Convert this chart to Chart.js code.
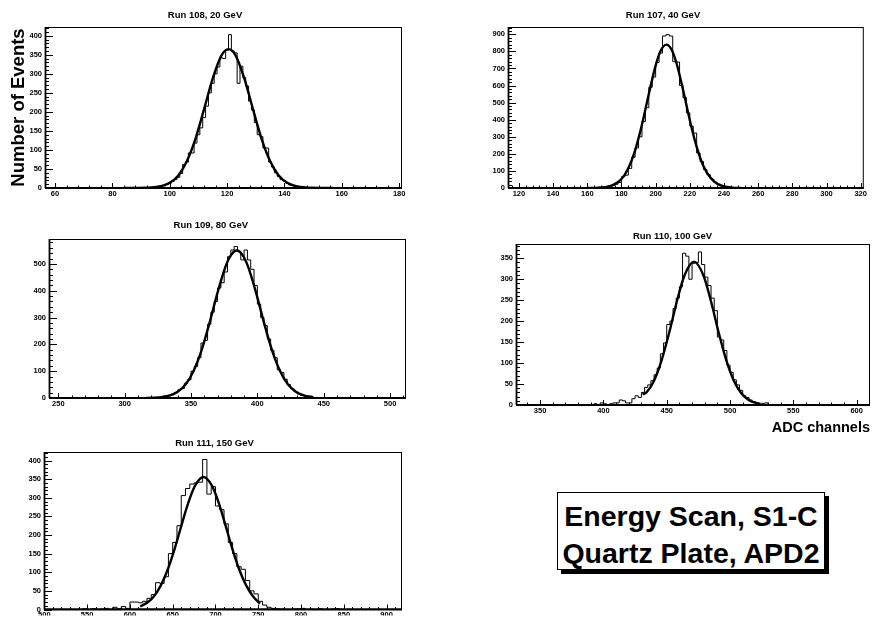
<!DOCTYPE html>
<html>
<head>
<meta charset="utf-8">
<script src="https://cdn.jsdelivr.net/npm/chart.js@4.4.0/dist/chart.umd.min.js"></script>
<style>
body { margin: 0; background: #fff; }
#fig { position: relative; width: 872px; height: 617px; overflow: hidden; font-family: "Liberation Sans", Arial, sans-serif; }
#fig canvas { position: absolute; }
#note { position: absolute; left: 557px; top: 492px; width: 266px; height: 71px; padding-top: 5px;
        border: 1px solid #000; box-shadow: 4px 4px 0 #000; background: #fff;
        font-weight: bold; font-size: 28.5px; line-height: 37px; text-align: center; white-space: nowrap; }
</style>
</head>
<body>
<div id="fig">
  <canvas id="run108"></canvas>
  <canvas id="run107"></canvas>
  <canvas id="run109"></canvas>
  <canvas id="run110"></canvas>
  <canvas id="run111"></canvas>
  <div id="note">Energy Scan, S1-C<br>Quartz Plate, APD2</div>
</div>
<script>
// Run 108, 20 GeV  (bins of 1 ADC channel, first low edge 90.5)
const run108Start = 90.5, run108Width = 1;
const run108Counts = [0,1,0,1,3,2,5,6,9,12,17,22,28,38,62,68,92,92,118,140,158,185,215,250,275,300,318,342,340,362,
                      403,360,355,275,320,290,268,228,205,172,140,135,105,105,68,55,40,30,22,18,12,8,6,4,2,2,1,1,0,0];
const run108FitX = [84,88,92,96,100,103,106,109,112,115,118,120.5,123,126,129,132,135,138,141,145,149,153,157];
const run108FitY = [0,0.1,0.6,3.4,13.7,33,71,130,208,288,348,365,348,288,208,130,71,33,13.7,3.4,0.6,0.1,0];
const run108XTicks = [60,80,100,120,140,160,180];
const run108YTicks = [0,50,100,150,200,250,300,350,400];

// Run 107, 40 GeV
const run107Start = 164, run107Width = 2;
const run107Counts = [1,2,3,5,10,15,22,32,66,75,115,180,235,300,390,470,590,650,735,790,890,898,890,740,738,600,530,440,
                      362,322,205,155,108,78,52,33,22,12,8,4,2,1,1];
const run107FitX = [160,165,170,175,180,184,188,192,196,200,203,206.3,209,212,216,220,224,228,232,236,240,245,250];
const run107FitY = [0.2,1,4.4,17,53,116,221,372,551,717,805,840,816,738,577,397,241,128,61,25,9,2.2,0.5];
const run107XTicks = [120,140,160,180,200,220,240,260,280,300,320];
const run107YTicks = [0,100,200,300,400,500,600,700,800,900];

// Run 109, 80 GeV
const run109Start = 320, run109Width = 2.5;
const run109Counts = [1,0,2,3,4,8,12,20,30,35,55,68,100,118,150,205,215,275,320,360,410,430,470,527,552,565,546,515,552,515,
                      480,420,350,300,270,220,178,150,105,95,70,50,35,24,15,10,7,4,3,2,1,0,1];
const run109FitX = [316,322,328,334,340,346,352,358,364,370,376,380,384.5,389,393,399,405,411,417,423,429,435,442];
const run109FitY = [0.3,1,3.4,9.4,23,51,102,179,281,393,490,532,550,532,490,393,281,179,102,51,23,9.4,2.8];
const run109XTicks = [250,300,350,400,450,500];
const run109YTicks = [0,100,200,300,400,500];

// Run 110, 100 GeV
const run110Start = 390, run110Width = 2.5;
const run110Counts = [0,3,0,5,3,0,3,5,5,12,10,5,5,15,22,18,30,42,48,58,72,88,122,148,192,200,230,255,282,362,
                      355,300,338,340,365,335,305,285,255,225,162,155,130,95,78,60,48,35,22,18,12,8,5,2,4,5,1,0,1];
const run110FitX = [431,434,440,446,452,458,464,471.5,479,485,491,497,503,509,515,519,524];
const run110FitY = [25,30,58,107,173,247,309,342,309,247,173,107,58,27.5,11.5,6,3];
const run110XTicks = [350,400,450,500,550,600];
const run110YTicks = [0,50,100,150,200,250,300,350];

// Run 111, 150 GeV
const run111Start = 540, run111Width = 5;
const run111Counts = [0,2,0,2,0,1,3,0,6,2,8,3,20,20,18,22,30,40,72,70,88,150,180,225,306,325,337,340,342,403,
                      310,330,278,268,230,180,150,115,108,78,50,42,22,12,6,3,2,1,0,0,1,2,3,0,1,0,2,0,0,1,2,0];
const run111FitX = [612,620,628,636,644,652,660,668,676,686,696,704,712,720,728,736,744,752];
const run111FitY = [8.3,18,35,64,106,161,224,285,332,356,332,285,224,161,106,64,35,16];
const run111XTicks = [500,550,600,650,700,750,800,850,900];
const run111YTicks = [0,50,100,150,200,250,300,350,400];

Chart.defaults.font.family = '"Liberation Sans", Arial, sans-serif';
Chart.defaults.color = '#000';

// ROOT-like frame with inward major/minor tick marks
const rootAxes = {
  id: 'rootAxes',
  afterDatasetsDraw(chart, args, opts) {
    const {ctx, chartArea: a, scales: {x, y}} = chart;
    ctx.save();
    ctx.strokeStyle = '#000';
    ctx.lineWidth = 1;
    ctx.strokeRect(a.left + 0.5, a.top + 0.5, a.right - a.left - 1, a.bottom - a.top - 1);
    ctx.lineWidth = 1.8;
    ctx.beginPath();
    ctx.moveTo(a.left, a.bottom); ctx.lineTo(a.right, a.bottom);
    ctx.moveTo(a.left + 0.5, a.top); ctx.lineTo(a.left + 0.5, a.bottom);
    ctx.stroke();
    ctx.lineWidth = 1;
    ctx.beginPath();
    const isMajor = (sc, v) => sc.ticks.some(t => Math.abs(t.value - v) < 1e-6);
    for (let k = Math.ceil(x.min / opts.xMinor); k * opts.xMinor <= x.max; k++) {
      const v = k * opts.xMinor;
      const px = Math.round(x.getPixelForValue(v)) + 0.5;
      ctx.moveTo(px, a.bottom);
      ctx.lineTo(px, a.bottom - (isMajor(x, v) ? 5 : 2.5));
    }
    for (let k = Math.ceil(y.min / opts.yMinor); k * opts.yMinor <= y.max; k++) {
      const v = k * opts.yMinor;
      const py = Math.round(y.getPixelForValue(v)) + 0.5;
      ctx.moveTo(a.left, py);
      ctx.lineTo(a.left + (isMajor(y, v) ? 8 : 4), py);
    }
    ctx.stroke();
    ctx.restore();
  }
};

function histPoints(start, width, counts) {
  const pts = [{x: start, y: 0}];
  counts.forEach((c, i) => pts.push({x: start + i * width, y: c}));
  pts.push({x: start + counts.length * width, y: 0});
  return pts;
}

// p.box = canvas [left, top, right, bottom], p.plot = frame [left, top, right, bottom] (page pixels)
function drawRun(p) {
  const cv = document.getElementById(p.id);
  const [bl, bt, br, bb] = p.box, [pl, pt, pr, pb] = p.plot;
  cv.width = br - bl; cv.height = bb - bt;
  cv.style.left = bl + 'px'; cv.style.top = bt + 'px';
  // title is centred over [bl + padLeft, pr]; keep room for the y labels
  const padLeft = Math.min(2 * p.titleX - pr - bl, pl - bl - 17);
  const lh = 9.5 * 1.2;
  new Chart(cv, {
    type: 'line',
    data: {
      datasets: [
        { data: p.fitX.map((v, i) => ({x: v, y: p.fitY[i]})), borderColor: '#000', borderWidth: 2.4,
          pointRadius: 0, cubicInterpolationMode: 'monotone', fill: false, order: 0 },
        { data: histPoints(p.start, p.width, p.counts), stepped: 'before', borderColor: '#000', borderWidth: 1,
          pointRadius: 0, fill: false, order: 1 }
      ]
    },
    options: {
      responsive: false, animation: false, events: [],
      layout: { padding: { left: padLeft, right: br - pr, top: 0, bottom: 0 } },
      plugins: {
        legend: { display: false },
        tooltip: { enabled: false },
        title: { display: true, text: p.title, font: { size: 9.5, weight: 'bold' },
                 padding: { top: p.titleY - bt - lh / 2, bottom: pt - p.titleY - lh / 2 } },
        rootAxes: { xMinor: p.xMinor, yMinor: p.yMinor }
      },
      scales: {
        x: {
          type: 'linear', min: p.xMin, max: p.xMax,
          afterBuildTicks: s => { s.ticks = p.xTicks.map(v => ({value: v})); },
          afterFit: s => { s.height = bb - pb; },
          grid: { display: false, drawTicks: false }, border: { display: false },
          ticks: { font: { size: 7.5, weight: 'bold' }, padding: 1, autoSkip: false, maxRotation: 0 },
          title: p.xTitle ? { display: true, text: p.xTitle, align: 'end', font: { size: 14.5, weight: 'bold' },
                              padding: { top: 0, bottom: Math.max(0, bb - p.xTitleY - 8.7) } } : { display: false }
        },
        y: {
          type: 'linear', min: 0, max: p.yMax,
          afterBuildTicks: s => { s.ticks = p.yTicks.map(v => ({value: v})); },
          afterFit: s => { s.width = pl - bl - padLeft; },
          grid: { display: false, drawTicks: false }, border: { display: false },
          ticks: { font: { size: 7.5, weight: 'bold' }, padding: 3, autoSkip: false },
          title: p.yTitle ? { display: true, text: p.yTitle, font: { size: 18.5, weight: 'bold' },
                              padding: { top: Math.max(0, p.yTitleX - bl - padLeft - 11.1), bottom: 0 } } : { display: false }
        }
      }
    },
    plugins: [rootAxes]
  });
}

drawRun({ id: 'run108', title: 'Run 108, 20 GeV', box: [0, 0, 410, 205], plot: [45, 27, 402, 188], titleX: 205, titleY: 15,
  xMin: 56.5, xMax: 181, yMax: 423, xMinor: 4, yMinor: 10,
  start: run108Start, width: run108Width, counts: run108Counts, fitX: run108FitX, fitY: run108FitY,
  xTicks: run108XTicks, yTicks: run108YTicks, yTitle: 'Number of Events', yTitleX: 18.3 });

drawRun({ id: 'run107', title: 'Run 107, 40 GeV', box: [440, 0, 868, 205], plot: [508, 27, 864, 188], titleX: 663, titleY: 15,
  xMin: 113.6, xMax: 321.8, yMax: 943, xMinor: 4, yMinor: 20,
  start: run107Start, width: run107Width, counts: run107Counts, fitX: run107FitX, fitY: run107FitY,
  xTicks: run107XTicks, yTicks: run107YTicks });

drawRun({ id: 'run109', title: 'Run 109, 80 GeV', box: [0, 210, 422, 412], plot: [49, 239, 406, 398], titleX: 210.8, titleY: 225,
  xMin: 243, xMax: 512, yMax: 593, xMinor: 10, yMinor: 20,
  start: run109Start, width: run109Width, counts: run109Counts, fitX: run109FitX, fitY: run109FitY,
  xTicks: run109XTicks, yTicks: run109YTicks });

drawRun({ id: 'run110', title: 'Run 110, 100 GeV', box: [440, 220, 872, 437], plot: [516, 244, 870, 405], titleX: 672.5, titleY: 236,
  xMin: 331, xMax: 610.5, yMax: 384, xMinor: 10, yMinor: 10,
  start: run110Start, width: run110Width, counts: run110Counts, fitX: run110FitX, fitY: run110FitY,
  xTicks: run110XTicks, yTicks: run110YTicks, xTitle: 'ADC channels', xTitleY: 428 });

drawRun({ id: 'run111', title: 'Run 111, 150 GeV', box: [0, 425, 420, 617], plot: [44, 452, 402, 611], titleX: 216.7, titleY: 443,
  xMin: 499.6, xMax: 918, yMax: 423, xMinor: 10, yMinor: 10,
  start: run111Start, width: run111Width, counts: run111Counts, fitX: run111FitX, fitY: run111FitY,
  xTicks: run111XTicks, yTicks: run111YTicks });
</script>
</body>
</html>
